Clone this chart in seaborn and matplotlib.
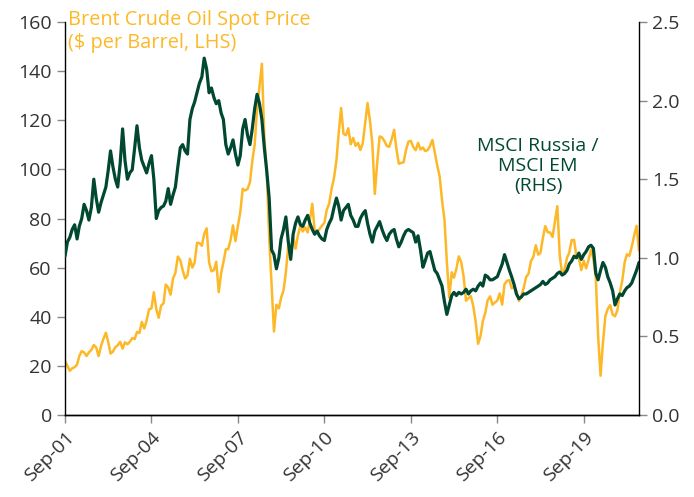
import pandas as pd
import matplotlib
matplotlib.use("Agg")
import matplotlib.pyplot as plt
import seaborn as sns

# monthly series, Sep 2001 - Aug 2021
months = pd.date_range("2001-09-01", periods=240, freq="MS")

brent = [
    22, 20, 18, 19, 19.5, 20.5, 24, 26, 25.5, 24, 25.5, 26.5,            # Sep01-Aug02
    28.5, 27.5, 24, 28, 31, 33.5, 30, 25, 25.8, 27.6, 28.4, 29.8,        # Sep02-Aug03
    27, 29.6, 28.8, 29.8, 31.3, 30.9, 33.8, 33.4, 37.9, 35.2, 38.4, 43,  # Sep03-Aug04
    43.4, 50, 43.1, 39.6, 44.5, 45.5, 53.1, 51.9, 49, 55.6, 57.9, 64.5,  # Sep04-Aug05
    63, 59, 55.6, 56.8, 63.6, 60, 62, 70.1, 70, 68.9, 73.7, 76,          # Sep05-Aug06
    62.1, 58.5, 59, 62.4, 50, 57.8, 62.1, 67.5, 67.5, 71.3, 77.2, 70.8,  # Sep06-Aug07
    77, 82.5, 92.1, 91.4, 92, 94.8, 103.3, 110.2, 124.6, 134, 143, 113,  # Sep07-Aug08
    99, 72.8, 53.2, 34, 44.9, 43.4, 47.7, 50.7, 58, 69.1, 65, 72.5,      # Sep08-Aug09
    67.7, 73.2, 77, 74.7, 76.4, 74.3, 79.3, 86, 75, 74.8, 75.6, 77.1,    # Sep09-Aug10
    78.2, 83.5, 86.1, 92, 96.5, 103.7, 114.6, 125, 114.5, 113.9, 116.7, 110.2,  # Sep10-Aug11
    112.8, 109.6, 110.8, 107.9, 110.7, 119.3, 127, 119.8, 110.3, 90, 102.6, 113.4,  # Sep11-Aug12
    113, 111.5, 109.5, 109.2, 112.3, 116.1, 108.5, 102.3, 102.6, 102.9, 107.9, 111.3,  # Sep12-Aug13
    111.6, 109.1, 107.8, 110.8, 108.1, 108.9, 107.5, 107.8, 109.5, 112, 106.8, 101.6,  # Sep13-Aug14
    97.1, 87.4, 79.4, 62.3, 47.8, 58.1, 55.9, 59.5, 64.6, 62.3, 56.5, 46.5,  # Sep14-Aug15
    47.6, 48.4, 44.3, 38, 29, 32.2, 38.2, 41.6, 46.7, 48.3, 44.9, 45.8,  # Sep15-Aug16
    46.6, 49.5, 44.9, 53.3, 54.6, 54.9, 51.6, 52.3, 50.3, 46.4, 48.5, 51.7,  # Sep16-Aug17
    56.2, 57.5, 62.7, 64.4, 69.1, 65.3, 66, 72.1, 76.9, 74.4, 74.3, 72.5,  # Sep17-Aug18
    78.9, 85, 64.8, 57.4, 59.4, 64, 66.1, 71.2, 71.3, 64.2, 63.9, 59,    # Sep18-Aug19
    62.8, 59.7, 63.2, 67.3, 63.7, 55.7, 32, 16, 29.4, 40.3, 43.2, 44.7,  # Sep19-Aug20
    40.9, 40.2, 42.7, 49.9, 54.8, 62.3, 65.4, 64.8, 68.5, 73.1, 77, 67,  # Sep20-Aug21
]

russia_em = [
    1.01, 1.10, 1.13, 1.18, 1.21, 1.12, 1.20, 1.25, 1.34, 1.30, 1.24, 1.32,
    1.50, 1.38, 1.29, 1.35, 1.40, 1.45, 1.55, 1.68, 1.58, 1.50, 1.45, 1.60,
    1.82, 1.62, 1.50, 1.54, 1.56, 1.70, 1.84, 1.70, 1.62, 1.58, 1.54, 1.60,
    1.65, 1.50, 1.25, 1.30, 1.32, 1.33, 1.36, 1.44, 1.34, 1.40, 1.45, 1.58,
    1.70, 1.72, 1.68, 1.66, 1.88, 1.95, 1.99, 2.05, 2.11, 2.15, 2.27, 2.20,
    2.05, 2.08, 2.02, 1.98, 2.00, 1.92, 1.88, 1.72, 1.66, 1.70, 1.75, 1.66,
    1.59, 1.65, 1.82, 1.88, 1.78, 1.72, 1.82, 1.95, 2.04, 1.98, 1.88, 1.70,
    1.55, 1.38, 1.05, 1.02, 0.93, 1.00, 1.12, 1.18, 1.26, 1.10, 0.99, 1.15,
    1.22, 1.26, 1.21, 1.20, 1.24, 1.27, 1.22, 1.18, 1.15, 1.17, 1.14, 1.12,
    1.11, 1.18, 1.22, 1.25, 1.32, 1.38, 1.33, 1.24, 1.30, 1.32, 1.34, 1.27,
    1.24, 1.20, 1.20, 1.25, 1.28, 1.30, 1.22, 1.15, 1.10, 1.17, 1.20, 1.23,
    1.18, 1.14, 1.11, 1.15, 1.17, 1.18, 1.12, 1.07, 1.10, 1.14, 1.17, 1.18,
    1.17, 1.16, 1.10, 1.14, 1.05, 0.94, 0.98, 1.03, 1.04, 0.98, 0.92, 0.90,
    0.86, 0.82, 0.72, 0.64, 0.70, 0.76, 0.78, 0.76, 0.78, 0.77, 0.78, 0.80,
    0.77, 0.79, 0.80, 0.79, 0.82, 0.84, 0.82, 0.89, 0.88, 0.86, 0.86, 0.87,
    0.88, 0.92, 0.96, 1.02, 0.97, 0.92, 0.88, 0.83, 0.77, 0.74, 0.75, 0.77,
    0.77, 0.78, 0.79, 0.80, 0.81, 0.82, 0.83, 0.85, 0.83, 0.84, 0.86, 0.87,
    0.88, 0.90, 0.91, 0.89, 0.90, 0.92, 0.96, 0.98, 1.01, 1.00, 1.03, 0.99,
    1.02, 1.04, 1.07, 1.08, 1.06, 0.90, 0.86, 0.92, 0.97, 0.94, 0.88, 0.84,
    0.79, 0.70, 0.74, 0.77, 0.76, 0.79, 0.81, 0.82, 0.84, 0.88, 0.92, 0.97,
]

tick_dates = pd.to_datetime(["2001-09-01", "2004-09-01", "2007-09-01", "2010-09-01",
                             "2013-09-01", "2016-09-01", "2019-09-01"])
tick_labels = ["Sep-01", "Sep-04", "Sep-07", "Sep-10", "Sep-13", "Sep-16", "Sep-19"]

gold = "#FDB827"
green = "#004831"
grey = "#333333"

sns.set_style("ticks")
plt.rcParams["font.family"] = ["Open Sans", "DejaVu Sans"]

df = pd.DataFrame({"date": months, "brent": brent, "ratio": russia_em})

fig = plt.figure(figsize=(6.94, 4.97), dpi=100)
ax = fig.add_axes([65 / 694, 1 - 415 / 497, 574 / 694, 393 / 497])
ax2 = ax.twinx()

sns.lineplot(data=df, x="date", y="brent", ax=ax, color=gold, linewidth=1.8)
sns.lineplot(data=df, x="date", y="ratio", ax=ax2, color=green, linewidth=2.3)

ax.set_ylim(0, 160)
ax.set_yticks(range(0, 161, 20))
ax2.set_ylim(0, 2.5)
ax2.set_yticks([0, 0.5, 1.0, 1.5, 2.0, 2.5])
ax2.set_yticklabels(["0.0", "0.5", "1.0", "1.5", "2.0", "2.5"])
ax.set_xlim(months[0], months[-1])
ax.set_xticks(tick_dates)
ax.set_xticklabels(tick_labels, rotation=45, ha="right", rotation_mode="anchor")

for a in (ax, ax2):
    a.set_xlabel("")
    a.set_ylabel("")
    a.spines["top"].set_visible(False)
    a.tick_params(axis="both", colors="#888888", labelcolor=grey, labelsize=14,
                  length=6, width=1, direction="out")
    for s in ("left", "right", "bottom"):
        a.spines[s].set_color("black")
        a.spines[s].set_linewidth(1)
ax.spines["right"].set_visible(False)
ax2.spines["left"].set_visible(False)

fig.text(68 / 694, 1 - 10 / 497, "Brent Crude Oil Spot Price\n($ per Barrel, LHS)",
         color=gold, fontsize=14.3, va="top", ha="left", linespacing=1.2)
fig.text(538 / 694, 1 - 137 / 497, "MSCI Russia /\nMSCI EM\n(RHS)",
         color=green, fontsize=14, va="top", ha="center", linespacing=1.15)

fig.savefig("out.png", dpi=100)
